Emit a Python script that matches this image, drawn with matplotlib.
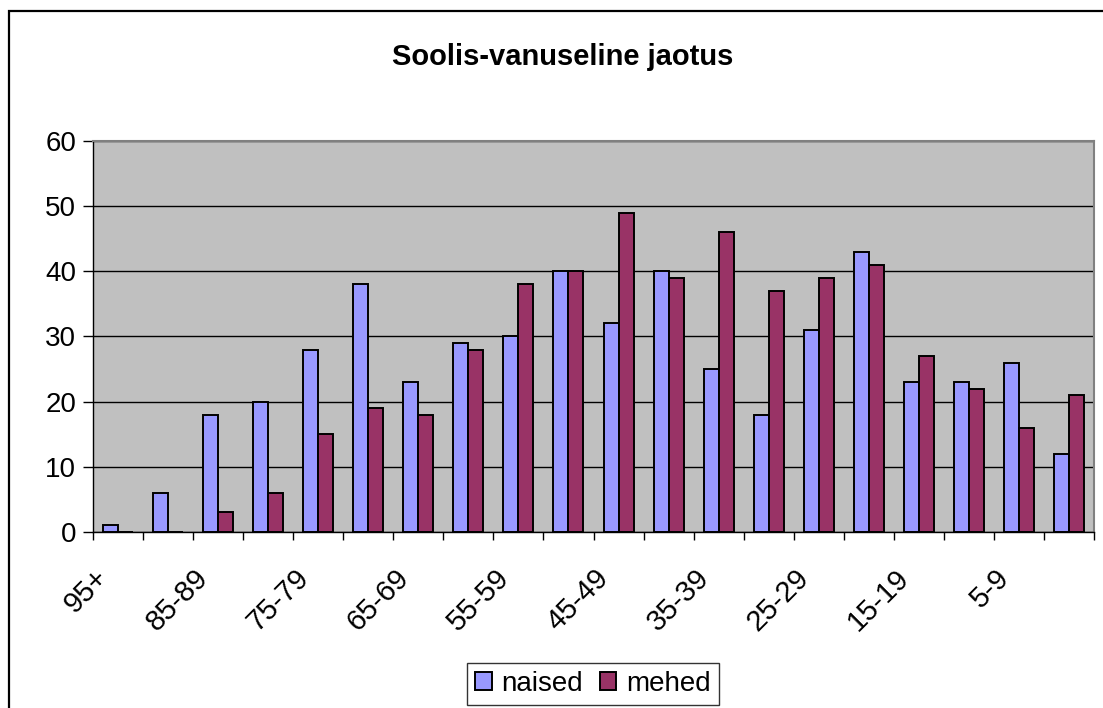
import numpy as np
import matplotlib
matplotlib.use('Agg')
import matplotlib.pyplot as plt
import matplotlib.transforms as mtransforms
from matplotlib.patches import Rectangle

plt.rcParams['font.family'] = ['Liberation Sans', 'DejaVu Sans']

# Vanuserühmad (vanemast nooremani)
groups = ['95+', '90-94', '85-89', '80-84', '75-79', '70-74', '65-69', '60-64',
          '55-59', '50-54', '45-49', '40-44', '35-39', '30-34', '25-29', '20-24',
          '15-19', '10-14', '5-9', '0-4']
naised = [1, 6, 18, 20, 28, 38, 23, 29, 30, 40, 32, 40, 25, 18, 31, 43, 23, 23, 26, 12]
mehed = [0, 0, 3, 6, 15, 19, 18, 28, 38, 40, 49, 39, 46, 37, 39, 41, 27, 22, 16, 21]

fig = plt.figure(figsize=(11.03, 7.08), dpi=100)
ax = fig.add_axes([93 / 1103, 1 - 532 / 708, (1094 - 93) / 1103, (532 - 141) / 708])

# raam ümber kogu diagrammi
fig.patches.append(Rectangle((9 / 1103, -0.05), 1.2, 1 - 11 / 708 + 0.05,
                             transform=fig.transFigure, fill=False,
                             edgecolor='black', linewidth=1.6))

x = np.arange(len(groups))
w = 0.3
ax.bar(x - w / 2, naised, w, color='#9999FF', edgecolor='black', linewidth=1.4,
       label='naised', zorder=3)
ax.bar(x + w / 2, mehed, w, color='#993366', edgecolor='black', linewidth=1.4,
       label='mehed', zorder=3)

ax.set_facecolor('#C0C0C0')
ax.set_xlim(-0.5, len(groups) - 0.5)
ax.set_ylim(0, 60)
ax.set_yticks(range(0, 61, 10))
ax.yaxis.grid(True, color='black', linewidth=1.0, zorder=1)
ax.set_axisbelow(True)

ax.set_xticks(x[::2])
ax.set_xticklabels(groups[::2], rotation=45, ha='right', rotation_mode='anchor')
ax.set_xticks(np.arange(-0.5, len(groups), 1), minor=True)
ax.tick_params(axis='x', which='major', length=0, pad=9, labelsize=21)
ax.tick_params(axis='x', which='minor', length=6, width=1, color='black')
ax.tick_params(axis='y', length=7, width=1, labelsize=20, pad=5)

shift = mtransforms.ScaledTranslation(-24 / 100, -19 / 100, fig.dpi_scale_trans)
for lbl in ax.get_xticklabels():
    lbl.set_transform(lbl.get_transform() + shift)

for s in ['top', 'right']:
    ax.spines[s].set_color('#808080')
    ax.spines[s].set_linewidth(1.5)
for s in ['left', 'bottom']:
    ax.spines[s].set_color('black')
    ax.spines[s].set_linewidth(1.0)

fig.text(563 / 1103, 1 - 57 / 708, 'Soolis-vanuseline jaotus', ha='center', va='center',
         fontsize=21, fontweight='bold')

leg = fig.legend(loc='center', bbox_to_anchor=(593 / 1103, 1 - 684 / 708), ncol=2,
                 fontsize=20, frameon=True, fancybox=False, handlelength=0.6,
                 handleheight=0.6, handletextpad=0.35, columnspacing=0.6,
                 borderpad=0.3)
leg.get_frame().set_edgecolor('black')
leg.get_frame().set_linewidth(1.0)

fig.savefig('out.png', dpi=100)
